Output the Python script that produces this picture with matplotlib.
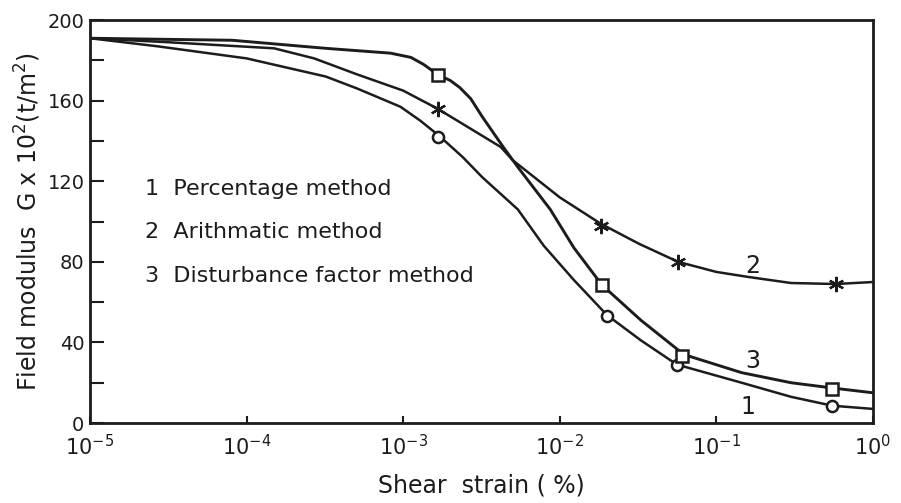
import matplotlib
matplotlib.use("Agg")
import matplotlib.pyplot as plt
import matplotlib.ticker as mticker

# ---------------------------------------------------------------------------
# Data (shear strain in %, G x 10^2 t/m^2)
# ---------------------------------------------------------------------------

# curve 1 - percentage method (circles)
strain_1 = [1e-5, 2.7e-5, 1.0e-4, 3.2e-4, 5.1e-4, 9.6e-4, 1.29e-3, 1.7e-3,
            2.4e-3, 3.2e-3, 5.4e-3, 7.9e-3, 1.23e-2, 2.0e-2, 3.3e-2, 5.6e-2,
            0.145, 0.30, 0.55, 1.0]
g_1 = [191, 187, 181, 172, 166, 157, 150, 142.5, 132, 122, 106, 88, 71,
       53.6, 41, 29, 20, 13, 8.6, 7]

# curve 2 - arithmatic method (stars)
strain_2 = [1e-5, 3.2e-5, 1.5e-4, 2.7e-4, 5.1e-4, 1.0e-3, 1.66e-3, 4.2e-3,
            5.0e-3, 1.0e-2, 1.82e-2, 3.2e-2, 5.7e-2, 0.10, 0.16, 0.30, 0.58,
            1.0]
g_2 = [191, 189, 186, 181, 173, 165, 156, 137, 130.5, 112, 99, 89, 80, 75,
       72.5, 69.5, 69, 70]

# curve 3 - disturbance factor method (squares)
strain_3 = [1e-5, 8.1e-5, 3.2e-4, 8.3e-4, 1.12e-3, 1.35e-3, 1.66e-3, 2.0e-3,
            2.3e-3, 2.7e-3, 3.2e-3, 4.4e-3, 5.4e-3, 8.7e-3, 1.23e-2, 1.86e-2,
            3.3e-2, 6.2e-2, 0.145, 0.30, 0.55, 1.0]
g_3 = [191, 190, 186, 183.6, 181.5, 178, 173, 170, 166.5, 161, 152, 136.5,
       127, 106, 87, 68.5, 51, 34, 25, 20, 17.4, 15]

# plotted test points
mark_strain_1 = [1.66e-3, 2.0e-2, 5.6e-2, 0.55]
mark_g_1 = [142, 53, 29, 8.5]
mark_strain_2 = [1.66e-3, 1.82e-2, 5.7e-2, 0.58]
mark_g_2 = [156, 98, 80, 69]
mark_strain_3 = [1.66e-3, 1.85e-2, 6.0e-2, 0.55]
mark_g_3 = [173, 68.5, 33.5, 17]

legend_lines = ["1  Percentage method",
                "2  Arithmatic method",
                "3  Disturbance factor method"]

plt.rcParams["font.family"] = ["DejaVu Sans"]
plt.rcParams["mathtext.fontset"] = "dejavusans"

fig = plt.figure(figsize=(9.01, 5.03), dpi=100)
ax = fig.add_axes([0.0999, 0.159, 0.869, 0.801])

ink = "#1c1c1c"
ax.plot(strain_1, g_1, color=ink, lw=1.8)
ax.plot(strain_2, g_2, color=ink, lw=1.8)
ax.plot(strain_3, g_3, color=ink, lw=2.1)

ax.plot(mark_strain_1, mark_g_1, ls="none", marker="o", ms=8,
        mfc="white", mec=ink, mew=1.8)
ax.plot(mark_strain_2, mark_g_2, ls="none", marker=(6, 2, 0), ms=11,
        mec=ink, mew=1.6)
ax.plot(mark_strain_3, mark_g_3, ls="none", marker="s", ms=8,
        mfc="white", mec=ink, mew=1.8)

# curve numbers
ax.text(0.171, 78, "2", fontsize=17, color=ink, ha="center", va="center")
ax.text(0.171, 31, "3", fontsize=17, color=ink, ha="center", va="center")
ax.text(0.158, 8, "1", fontsize=17, color=ink, ha="center", va="center")

for txt, yf in zip(legend_lines, [0.580, 0.474, 0.364]):
    ax.text(0.070, yf, txt, transform=ax.transAxes, fontsize=16,
            color=ink, ha="left", va="center")

ax.set_xscale("log")
ax.set_xlim(1e-5, 1.0)
ax.set_ylim(0, 200)
ax.xaxis.set_major_locator(mticker.LogLocator(base=10, numticks=10))
ax.xaxis.set_minor_locator(mticker.NullLocator())
ax.yaxis.set_major_locator(mticker.MultipleLocator(40))
ax.yaxis.set_minor_locator(mticker.MultipleLocator(20))

ax.tick_params(axis="y", which="both", direction="in", length=10, width=1.5,
               labelsize=14, colors=ink, pad=4)
ax.tick_params(axis="x", which="major", direction="in", length=5, width=1.5,
               labelsize=15, colors=ink, pad=8)
for s in ax.spines.values():
    s.set_linewidth(2.0)
    s.set_color(ink)

ax.set_xlabel("Shear  strain ( %)", fontsize=17, color=ink, labelpad=10)
ax.set_ylabel("Field modulus  G x 10$^2$(t/m$^2$)", fontsize=17,
              color=ink, labelpad=3)

fig.savefig("out.png", dpi=100, facecolor="white")
